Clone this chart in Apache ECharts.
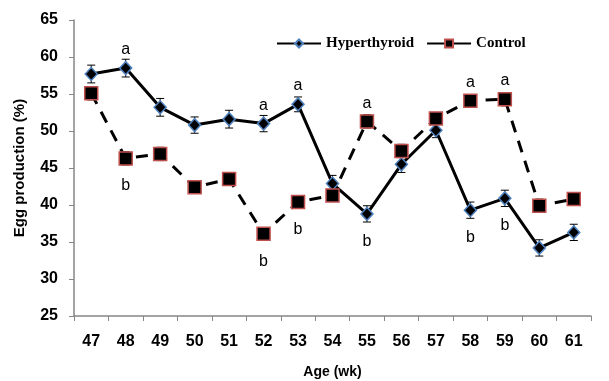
<!DOCTYPE html>
<html>
<head>
<meta charset="utf-8">
<script src="https://cdn.jsdelivr.net/npm/echarts@6/dist/echarts.min.js"></script>
<style>
  html, body { margin: 0; padding: 0; background: #fff; }
  #chart { width: 609px; height: 381px; }
</style>
</head>
<body>
<div id="chart"></div>
<script>
// age in weeks
var ages = ["47", "48", "49", "50", "51", "52", "53", "54", "55", "56", "57", "58", "59", "60", "61"];
var hyperValues = [57.7, 58.5, 53.2, 50.8, 51.6, 51.0, 53.6, 42.9, 38.8, 45.5, 50.1, 39.3, 40.9, 34.2, 36.3];
var hyperErrors = [1.2, 1.2, 1.2, 1.1, 1.2, 1.1, 1.0, 1.1, 1.1, 1.1, 1.0, 1.1, 1.1, 1.1, 1.1];
var hyperLetters = ["", "a", "", "", "", "a", "a", "", "b", "", "", "b", "b", "", ""];
var controlValues = [55.1, 46.3, 46.9, 42.4, 43.5, 36.1, 40.4, 41.3, 51.3, 47.3, 51.7, 54.1, 54.3, 39.9, 40.8];
var controlErrors = [0.9, 0.9, 0.9, 0.8, 0.8, 0.8, 0.8, 0.8, 0.9, 0.9, 0.8, 0.8, 0.9, 0.9, 0.8];
var controlLetters = ["", "b", "", "", "", "b", "b", "", "a", "", "", "a", "a", "", ""];
var yTicks = [25, 30, 35, 40, 45, 50, 55, 60, 65];

var myChart = echarts.init(document.getElementById("chart"));

// points with a/b letters
function withLetters(values, letters) {
  return values.map(function (v, i) {
    var l = letters[i];
    return {
      value: v,
      label: {
        show: l !== "",
        position: l === "a" ? "top" : "bottom",
        distance: l === "a" ? 3 : 12,
        formatter: l
      }
    };
  });
}

function errorData(values, errors) {
  return values.map(function (v, i) { return [i, v, errors[i]]; });
}

// vertical error bar with caps
function renderError(params, api) {
  var i = api.value(0), v = api.value(1), e = api.value(2);
  var hi = api.coord([i, v + e]);
  var lo = api.coord([i, v - e]);
  var w = 4;
  var st = { stroke: "#000", lineWidth: 1 };
  return {
    type: "group",
    children: [
      { type: "line", shape: { x1: hi[0], y1: hi[1], x2: lo[0], y2: lo[1] }, style: st },
      { type: "line", shape: { x1: hi[0] - w, y1: hi[1], x2: hi[0] + w, y2: hi[1] }, style: st },
      { type: "line", shape: { x1: lo[0] - w, y1: lo[1], x2: lo[0] + w, y2: lo[1] }, style: st }
    ]
  };
}

var labelFont = { fontFamily: "Liberation Sans", fontWeight: "bold", fontSize: 16, color: "#000" };

var option = {
  backgroundColor: "#fff",
  animation: false,
  legend: {
    data: [
      { name: "Hyperthyroid" },
      { name: "Control", lineStyle: { type: "solid" } }
    ],
    left: 271,
    top: 31,
    itemWidth: 44,
    itemHeight: 10,
    itemGap: 12,
    textStyle: { fontFamily: "Liberation Serif", fontWeight: "bold", fontSize: 15, color: "#000" }
  },
  grid: { left: 74, right: 18, top: 20, bottom: 65, outerBoundsMode: "none", containLabel: false },
  xAxis: {
    type: "category",
    data: ages,
    boundaryGap: true,
    name: "Age (wk)",
    nameLocation: "middle",
    nameGap: 49,
    nameTextStyle: { fontFamily: "Liberation Sans", fontWeight: "bold", fontSize: 14, color: "#000" },
    axisLine: { lineStyle: { color: "#868686", width: 1.5 } },
    axisTick: { show: true, length: 5, lineStyle: { color: "#868686" } },
    axisLabel: Object.assign({ margin: 18 }, labelFont)
  },
  yAxis: {
    type: "value",
    min: yTicks[0],
    max: yTicks[yTicks.length - 1],
    interval: 5,
    name: "Egg production (%)",
    nameLocation: "middle",
    nameGap: 47,
    nameTextStyle: { fontFamily: "Liberation Sans", fontWeight: "bold", fontSize: 15, color: "#000" },
    splitLine: { show: false },
    axisLine: { show: true, lineStyle: { color: "#868686", width: 1.5 } },
    axisTick: { show: true, length: 5, lineStyle: { color: "#868686" } },
    axisLabel: Object.assign({ margin: 16 }, labelFont)
  },
  series: [
    {
      name: "Hyperthyroid",
      type: "line",
      data: withLetters(hyperValues, hyperLetters),
      symbol: "diamond",
      symbolSize: [12, 13],
      lineStyle: { color: "#000", width: 3 },
      itemStyle: { color: "#000", borderColor: "#4f81bd", borderWidth: 1.5 },
      label: { fontFamily: "Liberation Sans", fontSize: 16, color: "#000" },
      z: 3
    },
    {
      name: "Control",
      type: "line",
      data: withLetters(controlValues, controlLetters),
      symbol: "rect",
      symbolSize: 13,
      lineStyle: { color: "#000", width: 3, type: [12, 9] },
      itemStyle: { color: "#000", borderColor: "#c0504d", borderWidth: 1.5 },
      label: { fontFamily: "Liberation Sans", fontSize: 16, color: "#000" },
      z: 3
    },
    {
      name: "hyperErr",
      type: "custom",
      renderItem: renderError,
      data: errorData(hyperValues, hyperErrors),
      encode: { x: 0, y: 1 },
      z: 2
    },
    {
      name: "controlErr",
      type: "custom",
      renderItem: renderError,
      data: errorData(controlValues, controlErrors),
      encode: { x: 0, y: 1 },
      z: 2
    }
  ]
};

myChart.setOption(option);
window.onresize = function () {
  myChart.resize();
};
</script>
</body>
</html>
